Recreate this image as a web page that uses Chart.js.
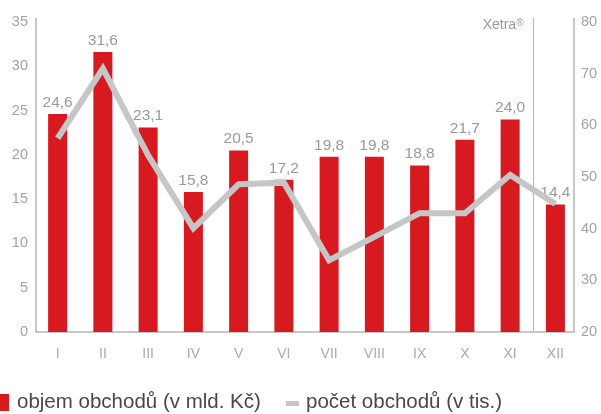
<!DOCTYPE html>
<html>
<head>
<meta charset="utf-8">
<script src="https://cdn.jsdelivr.net/npm/chart.js@4/dist/chart.umd.min.js"></script>
<style>
  html, body { margin: 0; padding: 0; background: #fff; }
  #wrap { position: relative; width: 601px; height: 414px; overflow: hidden; }
  canvas { position: absolute; left: 0; top: 0; }
  .item { position: absolute; top: 390.6px; font-family: "Liberation Sans", Arial, sans-serif; font-size: 20.5px; line-height: 20px; color: #484848; white-space: nowrap; }
  .box1 { position: absolute; left: 0; top: 394px; width: 9px; height: 17px; background: #d71920; }
  .box2 { position: absolute; left: 286px; top: 401px; width: 13px; height: 5px; background: #c6c6c6; }
</style>
</head>
<body>
<div id="wrap">
  <canvas id="c" width="601" height="414"></canvas>
  <div class="box1"></div><span class="item" id="l1" style="left:17px"></span>
  <div class="box2"></div><span class="item" id="l2" style="left:306px"></span>
</div>
<script>
const categories = ['I', 'II', 'III', 'IV', 'V', 'VI', 'VII', 'VIII', 'IX', 'X', 'XI', 'XII'];
const volume = [24.6, 31.6, 23.1, 15.8, 20.5, 17.2, 19.8, 19.8, 18.8, 21.7, 24.0, 14.4];
const trades = [57.5, 71, 54.2, 40.1, 48.6, 48.9, 33.9, 38.4, 43, 43, 50.4, 44.8];
const leftTicks = [0, 5, 10, 15, 20, 25, 30, 35];
const rightTicks = [20, 30, 40, 50, 60, 70, 80];
const volumeLabel = 'objem obchodů (v mld. Kč)';
const tradesLabel = 'počet obchodů (v tis.)';
const markerText = 'Xetra';

document.getElementById('l1').textContent = volumeLabel;
document.getElementById('l2').textContent = tradesLabel;

const FONT = '"Liberation Sans", Arial, sans-serif';
const TICK = '#a3a3a3';
const AXIS = '#b5b5b5';

const extras = {
  id: 'extras',
  afterDatasetDraw(chart, args) {
    if (args.index !== 0) return;
    const ctx = chart.ctx;
    const meta = chart.getDatasetMeta(0);
    ctx.save();
    ctx.font = '15.5px ' + FONT;
    ctx.fillStyle = '#9a9a9a';
    ctx.textAlign = 'center';
    ctx.textBaseline = 'alphabetic';
    meta.data.forEach((bar, i) => {
      ctx.fillText(volume[i].toFixed(1).replace('.', ','), bar.x, bar.y - 7);
    });
    ctx.restore();
  },
  beforeDatasetsDraw(chart) {
    const ctx = chart.ctx;
    const a = chart.chartArea;
    const x = chart.scales.x;
    const top = a.top - 4;
    const lx = a.left + 1, rx = a.right - 4;
    ctx.save();
    ctx.strokeStyle = AXIS;
    ctx.lineWidth = 1.5;
    ctx.beginPath();
    ctx.moveTo(lx, top); ctx.lineTo(lx, a.bottom);
    ctx.lineTo(rx, a.bottom); ctx.lineTo(rx, top);
    ctx.stroke();
    // Xetra divider between XI and XII
    const xd = Math.round((x.getPixelForValue(10) + x.getPixelForValue(11)) / 2) + 0.5;
    ctx.strokeStyle = '#eaa489';
    ctx.lineWidth = 1;
    ctx.beginPath();
    ctx.moveTo(xd, top); ctx.lineTo(xd, a.bottom);
    ctx.stroke();
    ctx.fillStyle = '#9a9a9a';
    ctx.textAlign = 'right';
    ctx.textBaseline = 'alphabetic';
    ctx.font = '10px ' + FONT;
    const rw = ctx.measureText('®').width;
    ctx.fillText('®', xd - 10, 26);
    ctx.font = '14px ' + FONT;
    ctx.fillText(markerText, xd - 10 - rw, 28.5);
    ctx.restore();
  }
};

new Chart(document.getElementById('c'), {
  data: {
    labels: categories,
    datasets: [
      {
        type: 'bar', label: volumeLabel, data: volume, yAxisID: 'y',
        backgroundColor: '#d71920', barPercentage: 0.42, categoryPercentage: 1, order: 2
      },
      {
        type: 'line', label: tradesLabel, data: trades, yAxisID: 'y1',
        borderColor: '#c6c6c6', borderWidth: 6, pointRadius: 0, tension: 0,
        borderJoinStyle: 'miter', borderCapStyle: 'butt', order: 1
      }
    ]
  },
  options: {
    responsive: false,
    animation: false,
    devicePixelRatio: 1,
    layout: { padding: { top: 22, bottom: 42, left: 0, right: 0 } },
    plugins: { legend: { display: false }, tooltip: { enabled: false } },
    scales: {
      x: {
        grid: { display: false, drawTicks: false }, border: { display: false },
        ticks: { color: '#ababab', font: { family: FONT, size: 14 }, padding: 14, maxRotation: 0 },
        afterFit(s) { s.height = 40; }
      },
      y: {
        position: 'left', min: 0, max: 35,
        grid: { display: false, drawTicks: false }, border: { display: false },
        afterBuildTicks(s) { s.ticks = leftTicks.map(v => ({ value: v })); },
        ticks: { color: TICK, font: { family: FONT, size: 14.5 }, padding: 7 },
        afterFit(s) { s.width = 35; }
      },
      y1: {
        position: 'right', min: 20, max: 80,
        grid: { display: false, drawTicks: false }, border: { display: false },
        afterBuildTicks(s) { s.ticks = rightTicks.map(v => ({ value: v })); },
        ticks: { color: TICK, font: { family: FONT, size: 14.5 }, padding: 3 },
        afterFit(s) { s.width = 23; }
      }
    }
  },
  plugins: [extras]
});
</script>
</body>
</html>
